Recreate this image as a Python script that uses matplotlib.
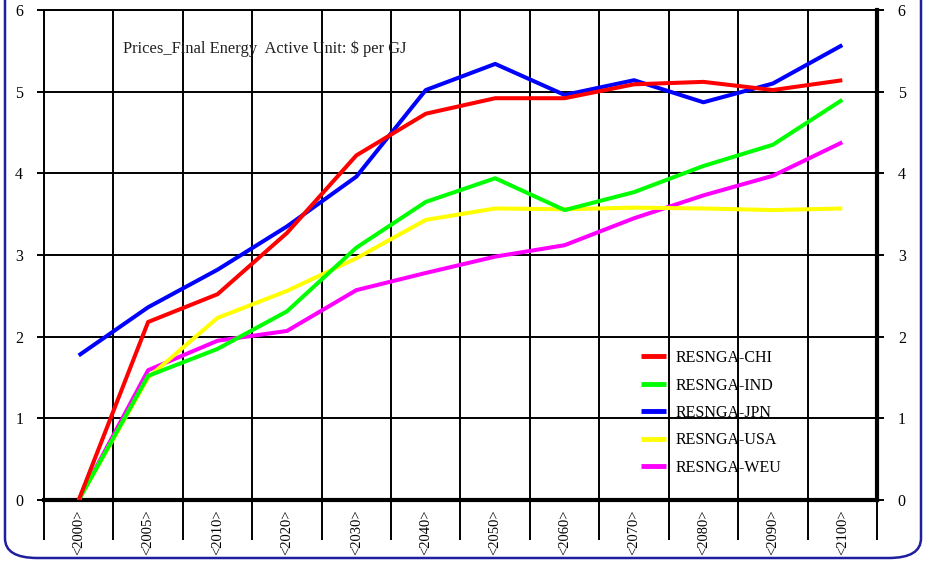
import matplotlib
matplotlib.use("Agg")
import matplotlib.pyplot as plt
from matplotlib.patches import FancyBboxPatch
from matplotlib.lines import Line2D
import numpy as np

years = ["<2000>", "<2005>", "<2010>", "<2020>", "<2030>", "<2040>", "<2050>",
         "<2060>", "<2070>", "<2080>", "<2090>", "<2100>"]
series_names = ["RESNGA-CHI", "RESNGA-IND", "RESNGA-JPN", "RESNGA-USA", "RESNGA-WEU"]
chi = [0.0, 2.18, 2.52, 3.27, 4.22, 4.73, 4.92, 4.92, 5.09, 5.12, 5.02, 5.14]
ind = [0.0, 1.52, 1.85, 2.31, 3.09, 3.65, 3.94, 3.55, 3.77, 4.09, 4.35, 4.90]
jpn = [1.77, 2.36, 2.82, 3.35, 3.96, 5.02, 5.34, 4.96, 5.14, 4.87, 5.10, 5.57]
usa = [0.0, 1.50, 2.23, 2.56, 2.96, 3.43, 3.57, 3.56, 3.58, 3.57, 3.55, 3.57]
weu = [0.0, 1.59, 1.95, 2.07, 2.57, 2.78, 2.98, 3.12, 3.45, 3.73, 3.97, 4.38]
colors = ["#ff0000", "#00ff00", "#0000ff", "#ffff00", "#ff00ff"]
title_text = "Prices_Final Energy  Active Unit: $ per GJ"

plt.rcParams['font.family'] = ['Liberation Serif', 'DejaVu Serif']

fig = plt.figure(figsize=(9.25, 5.61), dpi=100)
W, H = 925, 561
ax = fig.add_axes([44 / W, 1 - 500 / H, (877 - 44) / W, (500 - 10) / H])

x = np.arange(len(years))
all_series = [chi, ind, jpn, usa, weu]
for i in reversed(range(len(all_series))):
    ax.plot(x, all_series[i], color=colors[i], lw=2.9, solid_capstyle='butt', zorder=3)

ax.set_xlim(-0.5, len(years) - 0.5)
ax.set_ylim(0, 6)
ax.set_yticks(range(0, 7))
ax.set_xticks(x)
ax.set_xticklabels(years, rotation=90, fontsize=10.5, va='top')
ax.set_xticks(np.arange(-0.5, len(years), 1.0), minor=True)

ax.tick_params(axis='x', which='major', length=0, pad=7)
ax.tick_params(axis='x', which='minor', length=29, width=1.4, color='black', direction='out')
ax.tick_params(axis='y', which='major', length=5, width=1.4, direction='out',
               left=True, right=True, labelleft=True, labelright=True, labelsize=11.5, pad=10)

ax.grid(which='minor', axis='x', color='black', lw=1.4, zorder=1)
ax.grid(which='major', axis='y', color='black', lw=1.4, zorder=1)
ax.grid(which='major', axis='x', visible=False)
ax.set_axisbelow(True)

for s in ['top', 'left']:
    ax.spines[s].set_linewidth(1.4)
ax.spines['bottom'].set_linewidth(3)
ax.spines['right'].set_linewidth(3)

ax.text(123 / W, 1 - 53 / H, title_text, transform=fig.transFigure, fontsize=11.9,
        ha='left', va='baseline', color='#222222')

handles = [Line2D([], [], color=c, lw=3.5, solid_capstyle='butt') for c in colors]
fig.legend(handles, series_names, loc='upper left', bbox_to_anchor=(641 / W, 1 - 350 / H),
           frameon=False, fontsize=11.5, handlelength=1.56, handletextpad=0.63,
           labelspacing=0.72, borderpad=0, borderaxespad=0)

border = FancyBboxPatch((5 / W, 3 / H), (921 - 5) / W, 1.2, transform=fig.transFigure,
                        boxstyle="round,pad=0,rounding_size=0.035", fill=False,
                        edgecolor='#1e1e9e', lw=1.8, clip_on=False, zorder=0)
fig.patches.append(border)

fig.savefig("out.png", dpi=100)
